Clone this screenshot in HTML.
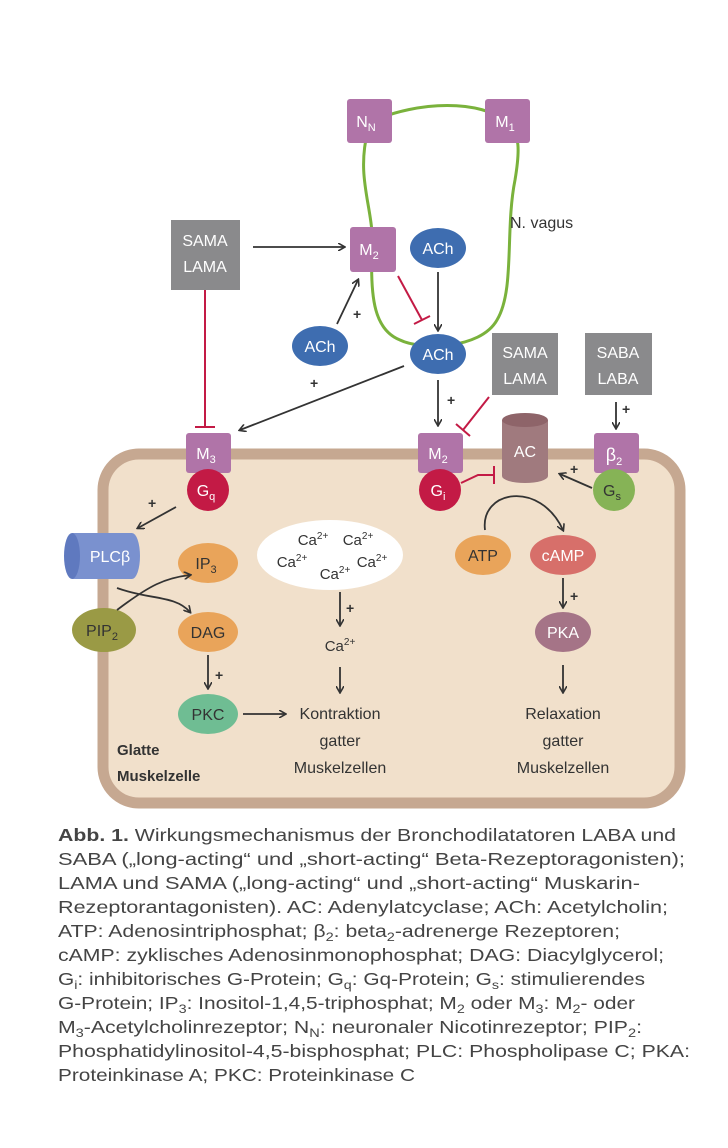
<!DOCTYPE html>
<html><head><meta charset="utf-8"><style>
html,body{margin:0;padding:0;background:#fff;}
svg{display:block;font-family:"Liberation Sans",sans-serif;}
</style></head><body>
<svg width="728" height="1148" viewBox="0 0 728 1148" xmlns="http://www.w3.org/2000/svg">
<defs>
<marker id="ah" markerWidth="8" markerHeight="8" refX="6" refY="4" orient="auto" markerUnits="userSpaceOnUse"><path d="M0,0 L7,4 L0,8" fill="none" stroke="#333" stroke-width="1.6"/></marker>
</defs>
<path d="M368,130 C355,180 375,210 372,250 C370,300 375,330 400,340 C420,350 480,350 497,320 C515,290 505,230 515,180 C520,150 520,135 508,122 C480,100 420,100 370,122" fill="none" stroke="#7ab23c" stroke-width="3"/>
<rect x="103" y="454" width="577" height="349" rx="36" fill="#f1e0cb" stroke="#c6a891" stroke-width="11"/>
<g font-size="16" fill="#fff" text-anchor="middle">
<rect x="347" y="99" width="45" height="44" rx="3" fill="#b074a8"/><text x="366" y="127">N<tspan font-size="11" dy="4">N</tspan></text>
<rect x="485" y="99" width="45" height="44" rx="3" fill="#b074a8"/><text x="505" y="127">M<tspan font-size="11" dy="4">1</tspan></text>
<rect x="350" y="227" width="46" height="45" rx="3" fill="#b074a8"/><text x="369" y="255">M<tspan font-size="11" dy="4">2</tspan></text>
<rect x="171" y="220" width="69" height="70" fill="#8a8a8c"/><text x="205" y="246">SAMA</text><text x="205" y="272">LAMA</text>
<rect x="492" y="333" width="66" height="62" fill="#8a8a8c"/><text x="525" y="358">SAMA</text><text x="525" y="384">LAMA</text>
<rect x="585" y="333" width="67" height="62" fill="#8a8a8c"/><text x="618" y="358">SABA</text><text x="618" y="384">LABA</text>
<ellipse cx="438" cy="248" rx="28" ry="20" fill="#3e6db0"/><text x="438" y="254">ACh</text>
<ellipse cx="320" cy="346" rx="28" ry="20" fill="#3e6db0"/><text x="320" y="352">ACh</text>
<ellipse cx="438" cy="354" rx="28" ry="20" fill="#3e6db0"/><text x="438" y="360">ACh</text>
<rect x="186" y="433" width="45" height="40" rx="3" fill="#b074a8"/><text x="206" y="459">M<tspan font-size="11" dy="4">3</tspan></text>
<circle cx="208" cy="490" r="21" fill="#c31a45"/><text x="206" y="496">G<tspan font-size="11" dy="4">q</tspan></text>
<rect x="418" y="433" width="45" height="40" rx="3" fill="#b074a8"/><text x="438" y="459">M<tspan font-size="11" dy="4">2</tspan></text>
<circle cx="440" cy="490" r="21" fill="#c31a45"/><text x="438" y="496">G<tspan font-size="11" dy="4">i</tspan></text>
<rect x="594" y="433" width="45" height="40" rx="3" fill="#b074a8"/><text x="614" y="461" font-size="18">β<tspan font-size="11" dy="4">2</tspan></text>
<circle cx="614" cy="490" r="21" fill="#86b356"/><text x="612" y="496" fill="#333">G<tspan font-size="11" dy="4">s</tspan></text>
<path d="M502,420 L502,476 A23,7 0 0 0 548,476 L548,420 Z" fill="#a07a7e"/>
<ellipse cx="525" cy="420" rx="23" ry="7" fill="#8e6469"/>
<text x="525" y="457">AC</text>
<path d="M72,533 L132,533 A8,23 0 0 1 132,579 L72,579 Z" fill="#7a91cf"/>
<ellipse cx="72" cy="556" rx="8" ry="23" fill="#5f79bf"/>
<text x="110" y="562">PLCβ</text>
<ellipse cx="208" cy="563" rx="30" ry="20" fill="#e9a45a"/><text x="206" y="569" fill="#333">IP<tspan font-size="11" dy="4">3</tspan></text>
<ellipse cx="104" cy="630" rx="32" ry="22" fill="#9a9a45"/><text x="102" y="636" fill="#333">PIP<tspan font-size="11" dy="4">2</tspan></text>
<ellipse cx="208" cy="632" rx="30" ry="20" fill="#e9a45a"/><text x="208" y="638" fill="#333">DAG</text>
<ellipse cx="208" cy="714" rx="30" ry="20" fill="#6fbd93"/><text x="208" y="720" fill="#333">PKC</text>
<ellipse cx="483" cy="555" rx="28" ry="20" fill="#e9a45a"/><text x="483" y="561" fill="#333">ATP</text>
<ellipse cx="563" cy="555" rx="33" ry="20" fill="#d76f6a"/><text x="563" y="561" fill="#fff">cAMP</text>
<ellipse cx="563" cy="632" rx="28" ry="20" fill="#a57487"/><text x="563" y="638">PKA</text>
<ellipse cx="330" cy="555" rx="73" ry="35" fill="#fff"/>
</g>
<g font-size="15" fill="#333" text-anchor="middle">
<text x="313" y="545">Ca<tspan font-size="10" dy="-6">2+</tspan></text>
<text x="358" y="545">Ca<tspan font-size="10" dy="-6">2+</tspan></text>
<text x="292" y="567">Ca<tspan font-size="10" dy="-6">2+</tspan></text>
<text x="372" y="567">Ca<tspan font-size="10" dy="-6">2+</tspan></text>
<text x="335" y="579">Ca<tspan font-size="10" dy="-6">2+</tspan></text>
<text x="340" y="651">Ca<tspan font-size="10" dy="-6">2+</tspan></text>
</g>
<g font-size="16" fill="#333" text-anchor="middle">
<text x="340" y="719">Kontraktion</text><text x="340" y="746">gatter</text><text x="340" y="773">Muskelzellen</text>
<text x="563" y="719">Relaxation</text><text x="563" y="746">gatter</text><text x="563" y="773">Muskelzellen</text>
</g>
<text x="510" y="228" font-size="16" fill="#333">N. vagus</text>
<text x="117" y="755" font-size="15" font-weight="bold" fill="#333">Glatte</text>
<text x="117" y="781" font-size="15" font-weight="bold" fill="#333">Muskelzelle</text>
<g stroke="#333" stroke-width="1.8" fill="none" marker-end="url(#ah)">
<line x1="253" y1="247" x2="344" y2="247"/>
<line x1="438" y1="272" x2="438" y2="330"/>
<line x1="337" y1="324" x2="358" y2="280"/>
<line x1="404" y1="366" x2="240" y2="430"/>
<line x1="438" y1="380" x2="438" y2="425"/>
<line x1="616" y1="402" x2="616" y2="428"/>
<line x1="176" y1="507" x2="138" y2="528"/>
<line x1="592" y1="488" x2="560" y2="474"/>
<path d="M485,530 C480,490 540,480 563,530"/>
<path d="M117,610 C150,585 165,578 190,575"/>
<path d="M117,588 C150,600 175,595 190,612"/>
<line x1="340" y1="592" x2="340" y2="625"/>
<line x1="340" y1="667" x2="340" y2="692"/>
<line x1="208" y1="655" x2="208" y2="688"/>
<line x1="243" y1="714" x2="285" y2="714"/>
<line x1="563" y1="578" x2="563" y2="607"/>
<line x1="563" y1="665" x2="563" y2="692"/>
</g>
<g font-size="14" fill="#333" font-weight="bold">
<text x="353" y="319">+</text><text x="310" y="388">+</text><text x="447" y="405">+</text>
<text x="622" y="414">+</text><text x="148" y="508">+</text><text x="570" y="474">+</text>
<text x="346" y="613">+</text><text x="215" y="680">+</text><text x="570" y="601">+</text>
</g>
<g stroke="#c31a45" stroke-width="2" fill="none">
<line x1="398" y1="276" x2="422" y2="320"/><line x1="414" y1="324" x2="430" y2="316"/>
<line x1="205" y1="290" x2="205" y2="427"/><line x1="195" y1="427" x2="215" y2="427"/>
<line x1="489" y1="397" x2="463" y2="430"/><line x1="456" y1="424" x2="470" y2="436"/>
<path d="M461,483 L478,475 L494,475"/><line x1="494" y1="466" x2="494" y2="484"/>
</g>
<g font-size="17.5" fill="#444">
<text x="58" y="841" textLength="618" lengthAdjust="spacingAndGlyphs"><tspan font-weight="bold">Abb. 1.</tspan> Wirkungsmechanismus der Bronchodilatatoren LABA und</text>
<text x="58" y="865" textLength="627" lengthAdjust="spacingAndGlyphs">SABA („long-acting“ und „short-acting“ Beta-Rezeptoragonisten);</text>
<text x="58" y="889" textLength="582" lengthAdjust="spacingAndGlyphs">LAMA und SAMA („long-acting“ und „short-acting“ Muskarin-</text>
<text x="58" y="913" textLength="610" lengthAdjust="spacingAndGlyphs">Rezeptorantagonisten). AC: Adenylatcyclase; ACh: Acetylcholin;</text>
<text x="58" y="937" textLength="562" lengthAdjust="spacingAndGlyphs">ATP: Adenosintriphosphat; β<tspan font-size="12" dy="4">2</tspan><tspan dy="-4">: beta</tspan><tspan font-size="12" dy="4">2</tspan><tspan dy="-4">-adrenerge Rezeptoren;</tspan></text>
<text x="58" y="961" textLength="606" lengthAdjust="spacingAndGlyphs">cAMP: zyklisches Adenosinmonophosphat; DAG: Diacylglycerol;</text>
<text x="58" y="985" textLength="587" lengthAdjust="spacingAndGlyphs">G<tspan font-size="12" dy="4">i</tspan><tspan dy="-4">: inhibitorisches G-Protein; G</tspan><tspan font-size="12" dy="4">q</tspan><tspan dy="-4">: Gq-Protein; G</tspan><tspan font-size="12" dy="4">s</tspan><tspan dy="-4">: stimulierendes</tspan></text>
<text x="58" y="1009" textLength="577" lengthAdjust="spacingAndGlyphs">G-Protein; IP<tspan font-size="12" dy="4">3</tspan><tspan dy="-4">: Inositol-1,4,5-triphosphat; M</tspan><tspan font-size="12" dy="4">2</tspan><tspan dy="-4"> oder M</tspan><tspan font-size="12" dy="4">3</tspan><tspan dy="-4">: M</tspan><tspan font-size="12" dy="4">2</tspan><tspan dy="-4">- oder</tspan></text>
<text x="58" y="1033" textLength="584" lengthAdjust="spacingAndGlyphs">M<tspan font-size="12" dy="4">3</tspan><tspan dy="-4">-Acetylcholinrezeptor; N</tspan><tspan font-size="12" dy="4">N</tspan><tspan dy="-4">: neuronaler Nicotinrezeptor; PIP</tspan><tspan font-size="12" dy="4">2</tspan><tspan dy="-4">:</tspan></text>
<text x="58" y="1057" textLength="632" lengthAdjust="spacingAndGlyphs">Phosphatidylinositol-4,5-bisphosphat; PLC: Phospholipase C; PKA:</text>
<text x="58" y="1081" textLength="357" lengthAdjust="spacingAndGlyphs">Proteinkinase A; PKC: Proteinkinase C</text>
</g>
</svg>
</body></html>
